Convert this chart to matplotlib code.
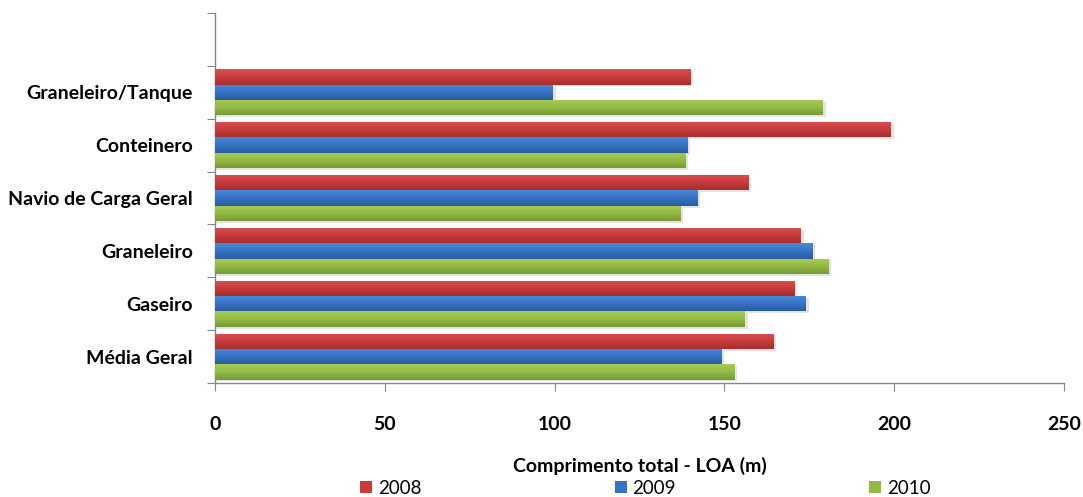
import numpy as np
import matplotlib
matplotlib.use("Agg")
import matplotlib.pyplot as plt
from matplotlib.colors import LinearSegmentedColormap
from matplotlib.patches import Rectangle

categories = ["Média Geral", "Gaseiro", "Graneleiro", "Navio de Carga Geral",
              "Conteinero", "Graneleiro/Tanque"]
years = ["2008", "2009", "2010"]
loa_2008 = [164.5, 170.5, 172.5, 157, 199, 140]
loa_2009 = [149, 174, 176, 142, 139, 99.5]
loa_2010 = [153, 156, 180.5, 137, 138.5, 179]
series = [loa_2008, loa_2009, loa_2010]
x_ticks = [0, 50, 100, 150, 200, 250]

# (top, middle, bottom) shades for the bevelled bar look
shades = [
    ("#d85050", "#c83c3c", "#a52e2e"),
    ("#4a88d8", "#3673c4", "#2a5b9c"),
    ("#a6cc52", "#92bb44", "#769a36"),
]
legend_colors = ["#c83c3c", "#3673c4", "#92bb44"]

plt.rcParams["font.family"] = ["Lato", "DejaVu Sans"]

fig = plt.figure(figsize=(10.83, 4.97), dpi=100)
ax = fig.add_axes([0.1985, 0.2294, 0.784, 0.7444])

n_slots = len(categories) + 1
bar_h = 0.29
offsets = [bar_h, 0.0, -bar_h]

for s_idx, vals in enumerate(series):
    cmap = LinearSegmentedColormap.from_list("g%d" % s_idx, list(shades[s_idx][::-1]))
    ys = np.arange(len(categories)) + 0.5 + offsets[s_idx]
    for y, v in zip(ys, vals):
        # soft drop shadow
        ax.add_patch(Rectangle((0, y - bar_h / 2 - 0.035), v + 0.8, bar_h,
                               facecolor="#b0b0b0", alpha=0.35, edgecolor="none",
                               zorder=1))
        bars = ax.barh([y], [v], height=bar_h, color=shades[s_idx][1],
                       edgecolor="none", zorder=2)
        rect = bars[0]
        grad = np.linspace(0, 1, 64).reshape(-1, 1)
        im = ax.imshow(grad, cmap=cmap, aspect="auto", origin="lower",
                       extent=(0, v, y - bar_h / 2, y + bar_h / 2), zorder=3)
        im.set_clip_path(rect)

ax.set_xlim(0, 250)
ax.set_ylim(0, n_slots)

for side in ("top", "right"):
    ax.spines[side].set_visible(False)
for side in ("left", "bottom"):
    ax.spines[side].set_color("#868686")
    ax.spines[side].set_linewidth(1.0)

ax.set_xticks(x_ticks)
ax.set_xticklabels([str(t) for t in x_ticks], fontsize=14, fontweight="bold")
ax.tick_params(axis="x", direction="out", length=6, color="#868686", pad=18)

ax.set_yticks(np.arange(0, n_slots + 1))
ax.set_yticklabels([])
ax.set_yticks(np.arange(len(categories)) + 0.5, minor=True)
ax.set_yticklabels(categories, minor=True, fontsize=14, fontweight="bold")
ax.tick_params(axis="y", which="major", direction="out", length=6, color="#868686")
ax.tick_params(axis="y", which="minor", length=0, pad=16)

ax.set_xlabel("Comprimento total - LOA (m)", fontsize=14, fontweight="bold",
              labelpad=17)

handles = [Rectangle((0, 0), 1, 1, facecolor=c, edgecolor="none") for c in legend_colors]
fig.legend(handles, years, loc="center", bbox_to_anchor=(0.596, 0.018), ncol=3,
           frameon=False, fontsize=13.5, handlelength=0.65, handleheight=0.65,
           handletextpad=0.3, columnspacing=10.3, borderpad=0)

fig.savefig("out.png", dpi=100)
